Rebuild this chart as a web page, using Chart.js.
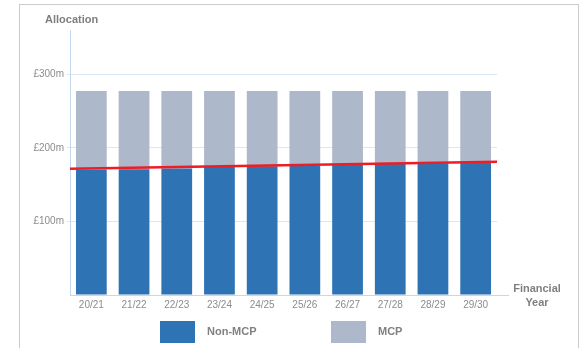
<!DOCTYPE html>
<html>
<head>
<meta charset="utf-8">
<script src="https://cdn.jsdelivr.net/npm/chart.js@4/dist/chart.umd.min.js"></script>
<style>
  html, body { margin: 0; padding: 0; background: #fff; }
  body { width: 583px; height: 348px; position: relative; overflow: hidden; font-family: "Liberation Sans", Arial, sans-serif; }
  #frame { position: absolute; left: 19px; top: 4px; width: 558px; height: 360px; border: 1px solid #cbcbcb; }
  #wrap { position: absolute; left: 0; top: 0; width: 583px; height: 348px; }
  #legend { position: absolute; left: 0; top: 321px; width: 583px; height: 22px; }
  .item { position: absolute; top: 0; height: 22px; }
  .box { position: absolute; left: 0; top: 0; width: 35px; height: 22px; }
  .lbl { position: absolute; left: 47px; top: 4px; font-size: 11px; font-weight: bold; color: #808080; white-space: nowrap; }
</style>
</head>
<body>
<div id="frame"></div>
<div id="wrap"><canvas id="chart" width="583" height="348"></canvas></div>
<div id="legend"></div>
<script>
// Данные
const years = ['20/21', '21/22', '22/23', '23/24', '24/25', '25/26', '26/27', '27/28', '28/29', '29/30'];
const nonMcp = [170, 171, 172, 174, 175, 176, 177, 178, 179, 180];
const mcp = [107, 106, 105, 103, 102, 101, 100, 99, 98, 97];
const trendX = [-0.5, 9.55];
const trendY = [171.5, 181];
const yTicks = [100, 200, 300];

const blue = '#2e74b5';
const grey = '#adb8ca';
const axisBlue = '#c3d7ee';
const textGrey = '#8c8c8c';

// Подписи осей и продление оси X
const extras = {
    id: 'extras',
    afterDraw(chart) {
        const c = chart.ctx;
        const area = chart.chartArea;
        c.save();
        c.strokeStyle = axisBlue;
        c.lineWidth = 1;
        c.beginPath();
        c.moveTo(area.right, area.bottom + 0.5);
        c.lineTo(area.right + 12, area.bottom + 0.5);
        c.stroke();
        c.fillStyle = '#7f7f7f';
        c.font = 'bold 11px "Liberation Sans", Arial, sans-serif';
        c.textBaseline = 'middle';
        c.textAlign = 'left';
        c.fillText('Allocation', 45, 20);
        c.textAlign = 'center';
        c.fillText('Financial', 537, 289);
        c.fillText('Year', 537, 303);
        c.restore();
    }
};

const config = {
    type: 'bar',
    data: {
        labels: years,
        datasets: [
            {
                label: 'Non-MCP',
                data: nonMcp,
                backgroundColor: blue,
                xAxisID: 'x',
                yAxisID: 'y',
                stack: 'total',
                grouped: false,
                order: 2
            },
            {
                label: 'MCP',
                data: mcp,
                backgroundColor: grey,
                xAxisID: 'x',
                yAxisID: 'y',
                stack: 'total',
                grouped: false,
                order: 2
            },
            {
                type: 'line',
                label: 'trend',
                data: trendX.map((x, i) => ({ x: x, y: trendY[i] })),
                xAxisID: 'x2',
                yAxisID: 'y2',
                borderColor: '#ee1c25',
                borderWidth: 2.5,
                pointRadius: 0,
                fill: false,
                order: 1
            }
        ]
    },
    options: {
        responsive: false,
        animation: false,
        layout: { padding: { left: 20, right: 86, top: 30, bottom: 33 } },
        plugins: {
            legend: { display: false },
            tooltip: { enabled: false }
        },
        scales: {
            x: {
                stacked: true,
                categoryPercentage: 0.8,
                barPercentage: 1,
                grid: { display: false, drawTicks: false },
                border: { color: axisBlue },
                ticks: { color: textGrey, font: { size: 10, family: '"Liberation Sans", Arial' }, padding: 4 },
                afterFit: s => { s.height = 20; }
            },
            y: {
                stacked: true,
                min: 0,
                max: 360,
                border: { color: axisBlue },
                grid: {
                    color: ctx => yTicks.includes(ctx.tick && ctx.tick.value) ? '#dce7f4' : 'rgba(0,0,0,0)',
                    tickLength: 3
                },
                ticks: {
                    stepSize: 100,
                    includeBounds: false,
                    color: textGrey,
                    font: { size: 10, family: '"Liberation Sans", Arial' },
                    padding: 3,
                    callback: v => yTicks.includes(v) ? '£' + v + 'm' : ''
                },
                afterFit: s => { s.width = 50; }
            },
            x2: {
                type: 'linear',
                display: false,
                offset: false,
                min: -0.5,
                max: 9.5
            },
            y2: {
                type: 'linear',
                display: false,
                stacked: false,
                min: 0,
                max: 360
            }
        }
    },
    plugins: [extras]
};

const ctx = document.getElementById('chart').getContext('2d');
const myChart = new Chart(ctx, config);

// Легенда
const legend = document.getElementById('legend');
const legendX = [160, 331];
myChart.data.datasets.slice(0, 2).forEach((ds, i) => {
    const item = document.createElement('div');
    item.className = 'item';
    item.style.left = legendX[i] + 'px';
    item.innerHTML = '<div class="box" style="background:' + ds.backgroundColor + '"></div><div class="lbl">' + ds.label + '</div>';
    legend.appendChild(item);
});
</script>
</body>
</html>
